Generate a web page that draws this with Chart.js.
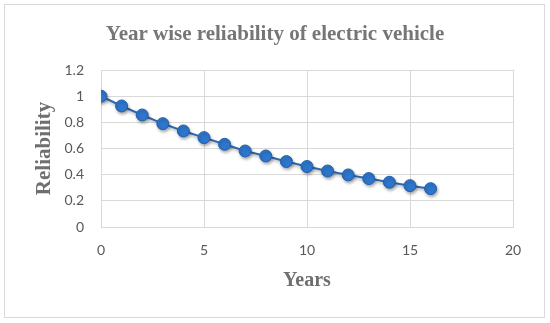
<!DOCTYPE html>
<html>
<head>
<meta charset="utf-8">
<script src="https://cdn.jsdelivr.net/npm/chart.js@4"></script>
<style>
    body { margin: 0; background: #fff; }
</style>
</head>
<body>
<canvas id="reliabilityChart" width="550" height="323"></canvas>
<script>
/* ================= DATA ================= */

let years = [ 0, 1, 2, 3, 4, 5, 6, 7, 8, 9, 10, 11, 12, 13, 14, 15, 16 ];

let reliability = [
    1.0, 0.925, 0.856, 0.79, 0.734, 0.683, 0.632, 0.581,
    0.543, 0.5, 0.462, 0.428, 0.398, 0.37, 0.342, 0.316, 0.293
];

let xTicks = [ 0, 5, 10, 15, 20 ];
let yTicks = [ '0', '0.2', '0.4', '0.6', '0.8', '1', '1.2' ];

/* ================= CHART ================= */

let points = [];
years.forEach( ( year, i ) => {
    points.push( { x: year, y: reliability[ i ] } );
} );

// light grey frame round the whole chart
const framePlugin = {
    id: 'frame',
    beforeDraw( chart ) {
        let ctx = chart.ctx;
        ctx.save();
        ctx.fillStyle = '#ffffff';
        ctx.fillRect( 0, 0, chart.width, chart.height );
        ctx.strokeStyle = '#d9d9d9';
        ctx.lineWidth = 1;
        ctx.strokeRect( 4.5, 4.5, 540, 313 );
        ctx.restore();
    }
};

// soft drop shadow under the markers, like the office chart
const shadowPlugin = {
    id: 'markerShadow',
    beforeDatasetsDraw( chart ) {
        let ctx = chart.ctx;
        ctx.save();
        ctx.shadowColor = 'rgba(0, 0, 0, 0.3)';
        ctx.shadowBlur = 3;
        ctx.shadowOffsetX = 1;
        ctx.shadowOffsetY = 2;
    },
    afterDatasetsDraw( chart ) {
        chart.ctx.restore();
    }
};

const ctx = document.getElementById( 'reliabilityChart' );

let lineChart = new Chart( ctx, {
    type: 'scatter',
    data: {
        datasets: [ {
            label: 'Reliability',
            data: points,
            showLine: true,
            borderColor: '#2d68b2',
            borderWidth: 2,
            pointBackgroundColor: '#2e76cc',
            pointBorderColor: '#2560a9',
            pointBorderWidth: 1,
            pointRadius: 6
        } ]
    },
    options: {
        responsive: false,
        animation: false,
        devicePixelRatio: 1,
        layout: {
            padding: { top: 8, left: 37, right: 37, bottom: 5 }
        },
        plugins: {
            legend: { display: false },
            tooltip: { enabled: false },
            title: {
                display: true,
                text: 'Year wise reliability of electric vehicle',
                color: '#767676',
                font: { family: 'Liberation Serif', size: 21, weight: 'bold' },
                padding: { top: 14.4, bottom: 22.4 }
            }
        },
        scales: {
            x: {
                type: 'linear',
                min: xTicks[ 0 ],
                max: xTicks[ xTicks.length - 1 ],
                afterBuildTicks: scale => {
                    scale.ticks = xTicks.map( v => ( { value: v } ) );
                },
                afterFit: scale => { scale.height = 91; },
                ticks: {
                    padding: 15,
                    color: '#595959',
                    font: { family: 'Lato', size: 14 }
                },
                grid: { color: '#d9d9d9', drawTicks: false },
                border: { color: '#d9d9d9' },
                title: {
                    display: true,
                    text: 'Years',
                    color: '#6f6f6f',
                    font: { family: 'Liberation Serif', size: 20, weight: 'bold' },
                    padding: { top: 0, bottom: 25 }
                }
            },
            y: {
                min: 0,
                max: 1.2,
                afterBuildTicks: scale => {
                    scale.ticks = yTicks.map( t => ( { value: parseFloat( t ) } ) );
                },
                afterFit: scale => { scale.width = 64; },
                ticks: {
                    padding: 17,
                    color: '#595959',
                    font: { family: 'Lato', size: 14 },
                    callback: ( value, index ) => yTicks[ index ]
                },
                grid: { color: '#d9d9d9', drawTicks: false },
                border: { color: '#d9d9d9' },
                title: {
                    display: true,
                    text: 'Reliability',
                    color: '#6f6f6f',
                    font: { family: 'Liberation Serif', size: 21, weight: 'bold' },
                    padding: { top: -4.6, bottom: 0 }
                }
            }
        }
    },
    plugins: [ framePlugin, shadowPlugin ]
} );
</script>
</body>
</html>
